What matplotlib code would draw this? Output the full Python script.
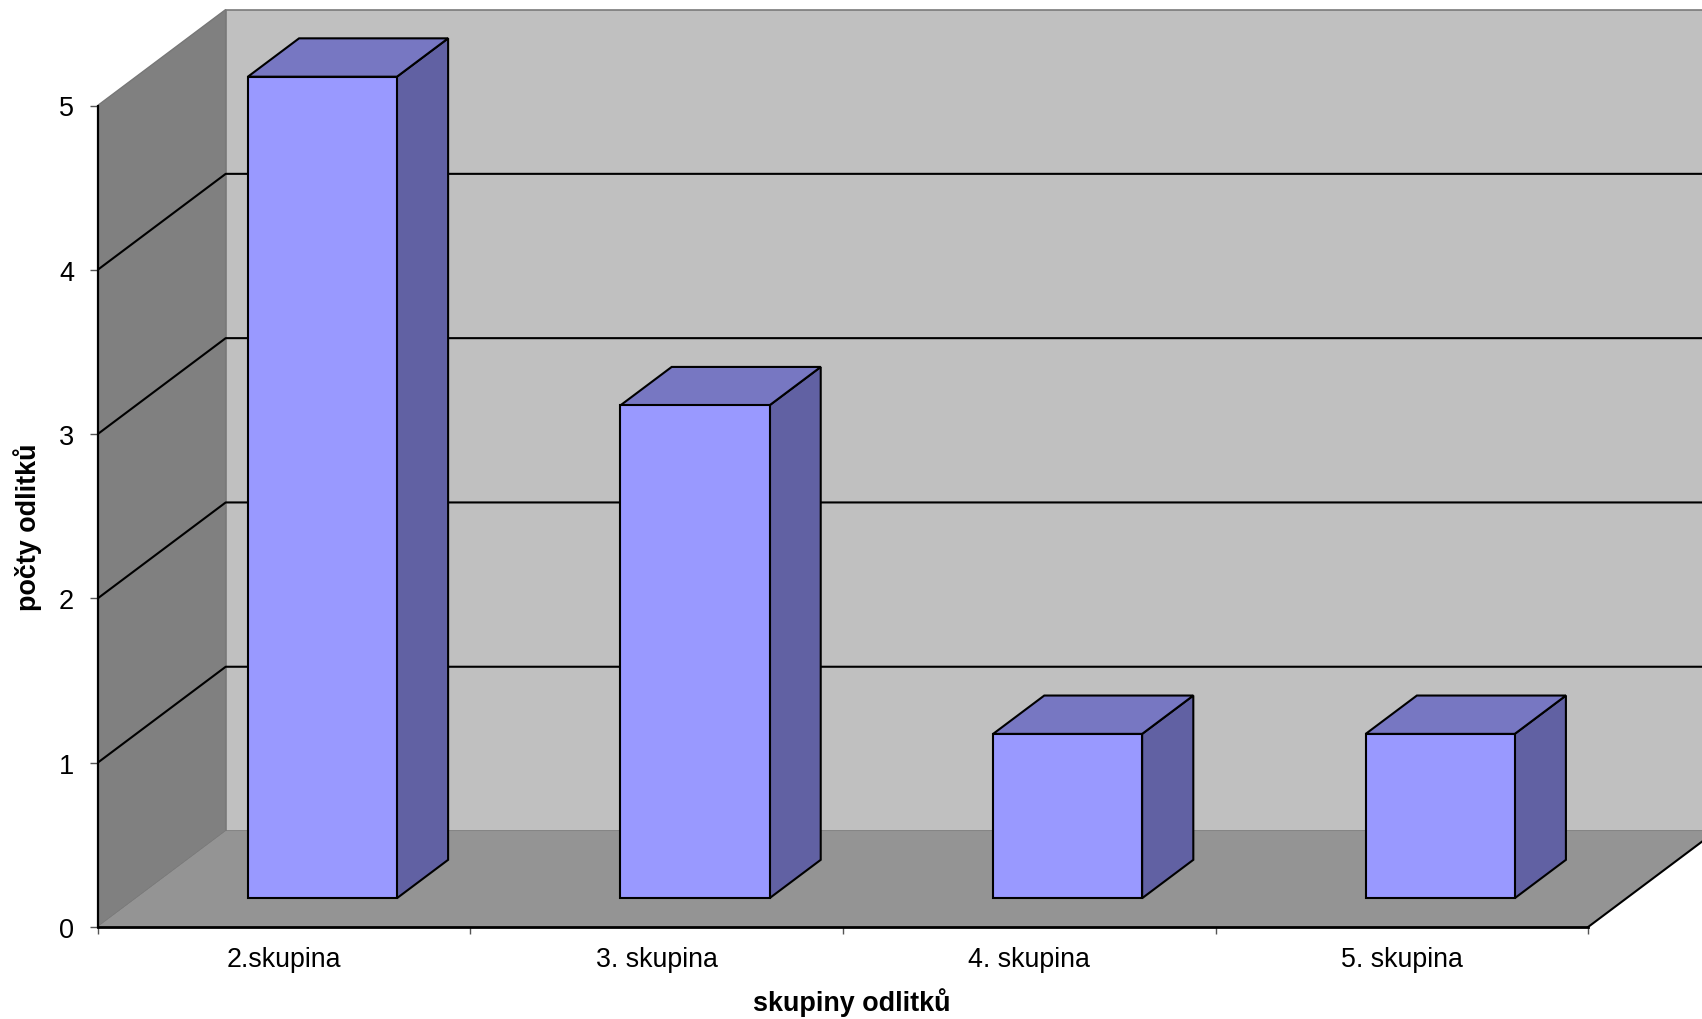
import matplotlib
matplotlib.use('Agg')
import matplotlib.pyplot as plt
from matplotlib.patches import Polygon

plt.rcParams['font.family'] = ['Liberation Sans', 'DejaVu Sans']

# data
skupiny = ['2.skupina', '3. skupina', '4. skupina', '5. skupina']
pocty = [5, 3, 1, 1]
y_ticks = [0, 1, 2, 3, 4, 5]

# 3d look (depth offset in data units)
hx = 0.3435
hy = 0.584
sirka = 0.4
d0, d1 = 0.3, 0.7

c_bok = '#808080'
c_zed = '#c0c0c0'
c_podlaha = '#949494'
c_predek = '#9999ff'
c_vrch = '#7777c2'
c_strana = '#6161a3'

fig = plt.figure(figsize=(17.02, 10.2), dpi=100)
ax = fig.add_axes([97.7 / 1702, 92 / 1020, (1702 - 97.7) / 1702, 920 / 1020])
n = len(skupiny)
ymax = max(y_ticks)
ax.set_xlim(0, (1702 - 97.7) / 372.6)
ax.set_ylim(0, 920 / 164.3)

# walls
ax.add_patch(Polygon([(0, 0), (0, ymax), (hx, ymax + hy), (hx, hy)],
                     closed=True, fc=c_bok, ec='#777777', lw=1, zorder=1))
ax.add_patch(Polygon([(hx, hy), (hx, ymax + hy), (n + hx, ymax + hy), (n + hx, hy)],
                     closed=True, fc=c_zed, ec='#7a7a7a', lw=1.2, zorder=1, clip_on=True))
# gridlines
for v in y_ticks[1:-1]:
    ax.plot([0, hx, n + hx], [v, v + hy, v + hy], color='black', lw=1.5, zorder=2)
# floor
ax.add_patch(Polygon([(0, 0), (n, 0), (n + hx, hy), (hx, hy)],
                     closed=True, fc=c_podlaha, ec='none', zorder=3))
ax.plot([n, n + hx], [0, hy], color='black', lw=1.5, zorder=3)

# bars
for i, v in enumerate(pocty):
    x0 = i + (1 - sirka) / 2 + d0 * hx
    x1 = x0 + sirka
    y0 = d0 * hy
    ox = (d1 - d0) * hx
    oy = (d1 - d0) * hy
    kw = dict(closed=True, ec='black', lw=1.5, joinstyle='miter', zorder=4)
    ax.add_patch(Polygon([(x1, y0), (x1 + ox, y0 + oy), (x1 + ox, y0 + v + oy), (x1, y0 + v)],
                         fc=c_strana, **kw))
    ax.add_patch(Polygon([(x0, y0 + v), (x1, y0 + v), (x1 + ox, y0 + v + oy), (x0 + ox, y0 + v + oy)],
                         fc=c_vrch, **kw))
    ax.add_patch(Polygon([(x0, y0), (x1, y0), (x1, y0 + v), (x0, y0 + v)],
                         fc=c_predek, **kw))

# axes
for s in ['top', 'right']:
    ax.spines[s].set_visible(False)
ax.spines['left'].set_bounds(0, ymax)
ax.spines['bottom'].set_bounds(0, n)
ax.spines['left'].set_linewidth(1.6)
ax.spines['bottom'].set_linewidth(2)
ax.spines['left'].set_zorder(5)
ax.spines['bottom'].set_zorder(5)
ax.set_facecolor('none')

ax.set_yticks(y_ticks)
ax.set_yticklabels([str(t) for t in y_ticks])
ax.tick_params(axis='y', length=6, width=1, pad=11, labelsize=19.5, color='#555555')

ax.set_xticks(range(n + 1))
ax.set_xticklabels([''] * (n + 1))
ax.set_xticks([i + 0.5 for i in range(n)], minor=True)
ax.set_xticklabels(skupiny, minor=True)
ax.tick_params(axis='x', which='major', length=5, width=1, color='#555555')
ax.tick_params(axis='x', which='minor', length=0, pad=13.5, labelsize=19.3)

ax.set_xlabel('skupiny odlitků', fontsize=19.4, fontweight='bold', va='center')
ax.xaxis.set_label_coords(0.470, -0.0815)
ax.set_ylabel('počty odlitků', fontsize=19.4, fontweight='bold', va='center')
ax.yaxis.set_label_coords(-0.0435, 0.436)

fig.savefig('out.png', dpi=100)
